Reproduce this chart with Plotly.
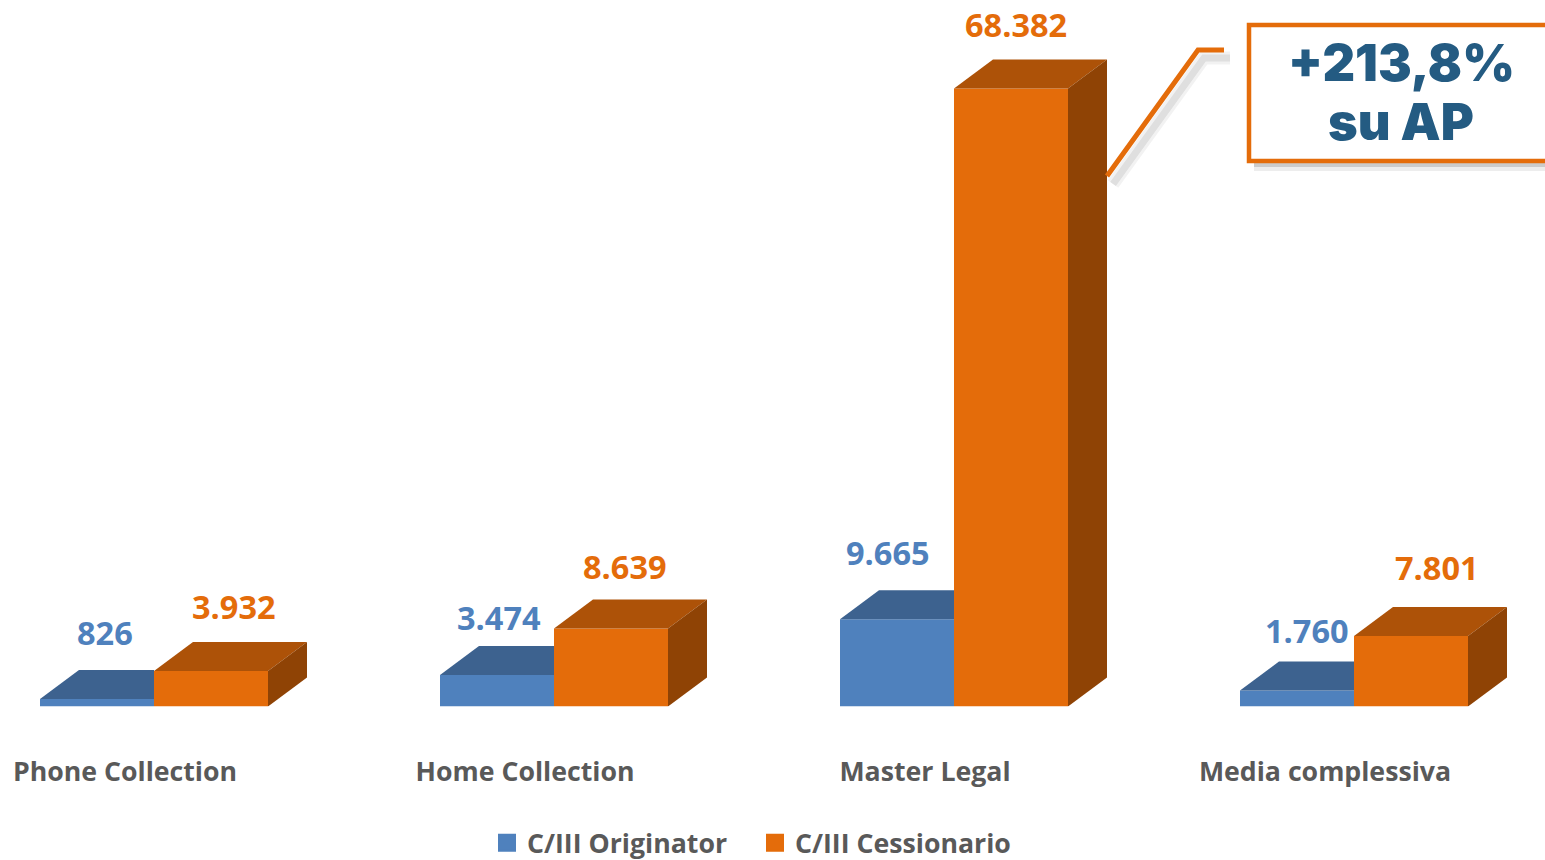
import plotly.graph_objects as go

categories = ["Phone Collection", "Home Collection", "Master Legal", "Media complessiva"]
originator = [826, 3474, 9665, 1760]
cessionario = [3932, 8639, 68382, 7801]
series_names = ["C/III Originator", "C/III Cessionario"]
callout_lines = ["+213,8%", "su AP"]

W, H = 1545, 860
BASE_PX = 706.5
GROUP_PX = 400
FIRST_CENTER_PX = 154
PX_PER_UNIT = 618 / 68382
BAR = 114 / GROUP_PX
DX = 39 / GROUP_PX
DY = 29 / PX_PER_UNIT

BLUE, BLUE_TOP = "#4f81bd", "#3d628f"
ORANGE, ORANGE_TOP, ORANGE_SIDE = "#e46c0a", "#ad5208", "#8f4305"
GREY = "#595959"
DARK = "#245b82"
FONT = "Open Sans"

xs = list(range(len(categories)))
fmt = lambda v: f"{v:,}".replace(",", ".")


def px(x):
    return x / W


def py(y):
    return 1 - y / H


fig = go.Figure()
fig.add_bar(x=xs, y=originator, marker=dict(color=BLUE, line_width=0), showlegend=False, hoverinfo="skip")
fig.add_bar(x=xs, y=cessionario, marker=dict(color=ORANGE, line_width=0), showlegend=False, hoverinfo="skip")


def poly(px_list, py_list, color):
    fig.add_scatter(x=px_list, y=py_list, mode="lines", fill="toself", fillcolor=color,
                    line=dict(width=0, color=color), showlegend=False, hoverinfo="skip")


for i, a, b in zip(xs, originator, cessionario):
    # top of the blue bar, cut where the orange bar stands in front of it
    poly([i - BAR, i - BAR + DX, i, i, i - BAR], [a, a + DY, a + DY, a, a], BLUE_TOP)
    # top and side of the orange bar
    poly([i, i + DX, i + BAR + DX, i + BAR, i], [b, b + DY, b + DY, b, b], ORANGE_TOP)
    poly([i + BAR, i + BAR + DX, i + BAR + DX, i + BAR, i + BAR], [b, b + DY, DY, 0, b], ORANGE_SIDE)

for name, color in zip(series_names, [BLUE, ORANGE]):
    fig.add_scatter(x=[None], y=[None], mode="markers", name=name,
                    marker=dict(symbol="square", size=16, color=color, line=dict(color=color, width=2)))

# data labels: horizontal offset from the group centre, and pixel row of the label
blue_off = [-49, -55, -66, -47]
orange_off = [80, 71, 62, 83]
blue_label_px = [632, 618, 553, 631]
orange_label_px = [607, 566, 24, 567]
annotations = []
for i, a, b, bx, ox, by, oy in zip(xs, originator, cessionario, blue_off, orange_off, blue_label_px, orange_label_px):
    annotations.append(dict(x=i, y=a, text=fmt(a), xref="x", yref="y", showarrow=False, xshift=bx,
                            yshift=(BASE_PX - by) - a * PX_PER_UNIT, yanchor="middle", xanchor="center",
                            font=dict(family=FONT, size=32.5, color=BLUE, weight=700)))
    annotations.append(dict(x=i, y=b, text=fmt(b), xref="x", yref="y", showarrow=False, xshift=ox,
                            yshift=(BASE_PX - oy) - b * PX_PER_UNIT, yanchor="middle", xanchor="center",
                            font=dict(family=FONT, size=32.5, color=ORANGE, weight=700)))
for line, row in zip(callout_lines, [63, 122]):
    annotations.append(dict(x=px(1401), y=py(row), xref="paper", yref="paper", text=line, showarrow=False,
                            xanchor="center", yanchor="middle",
                            font=dict(family="Inter", size=50.5, color=DARK, weight=900)))

leader = lambda dx, dy: (f"M {px(1107 + dx)} {py(176 + dy)} L {px(1198 + dx)} {py(50 + dy)} "
                         f"L {px(1224 + dx)} {py(50 + dy)}")
shapes = [
    # callout shadows
    dict(type="rect", xref="paper", yref="paper", x0=px(1254), x1=1.02, y0=py(171), y1=py(161),
         fillcolor="rgba(0,0,0,0.07)", line_width=0, layer="below"),
    dict(type="rect", xref="paper", yref="paper", x0=px(1254), x1=1.02, y0=py(167), y1=py(161),
         fillcolor="rgba(0,0,0,0.14)", line_width=0, layer="below"),
    dict(type="path", xref="paper", yref="paper", path=leader(6, 8),
         line=dict(color="rgba(0,0,0,0.05)", width=13), layer="below"),
    dict(type="path", xref="paper", yref="paper", path=leader(6, 8),
         line=dict(color="rgba(0,0,0,0.08)", width=7), layer="below"),
    # callout box and leader
    dict(type="rect", xref="paper", yref="paper", x0=px(1249), x1=1.02, y0=py(161), y1=py(25),
         fillcolor="white", line=dict(color=ORANGE, width=4.5)),
    dict(type="path", xref="paper", yref="paper", path=leader(0, 0),
         line=dict(color=ORANGE, width=5)),
]

fig.update_layout(
    width=W, height=H, autosize=False,
    margin=dict(l=0, r=0, t=0, b=0, autoexpand=False),
    paper_bgcolor="white", plot_bgcolor="white",
    barmode="group", bargap=1 - 2 * BAR, bargroupgap=0,
    showlegend=True,
    legend=dict(orientation="h", x=px(487), y=py(843), xanchor="left", yanchor="middle",
                font=dict(family=FONT, size=26.7, color=GREY, weight=700),
                bgcolor="rgba(0,0,0,0)", itemwidth=30, traceorder="normal",
                entrywidth=223, entrywidthmode="pixels"),
    annotations=annotations, shapes=shapes,
    xaxis=dict(range=[-FIRST_CENTER_PX / GROUP_PX, (W - FIRST_CENTER_PX) / GROUP_PX],
               tickmode="array", tickvals=[i - 29 / GROUP_PX for i in xs], ticktext=categories,
               ticks="outside", ticklen=41, tickcolor="rgba(0,0,0,0)", tickangle=0,
               tickfont=dict(family=FONT, size=26.7, color=GREY, weight=700),
               showgrid=False, zeroline=False, showline=False, anchor="y", automargin=False),
    yaxis=dict(domain=[(H - BASE_PX) / H, 1], range=[0, BASE_PX / PX_PER_UNIT], visible=False),
)

fig.write_html("out.html", config=dict(displayModeBar=False),
               post_script="document.body.style.margin='0';document.body.style.overflow='hidden';")
